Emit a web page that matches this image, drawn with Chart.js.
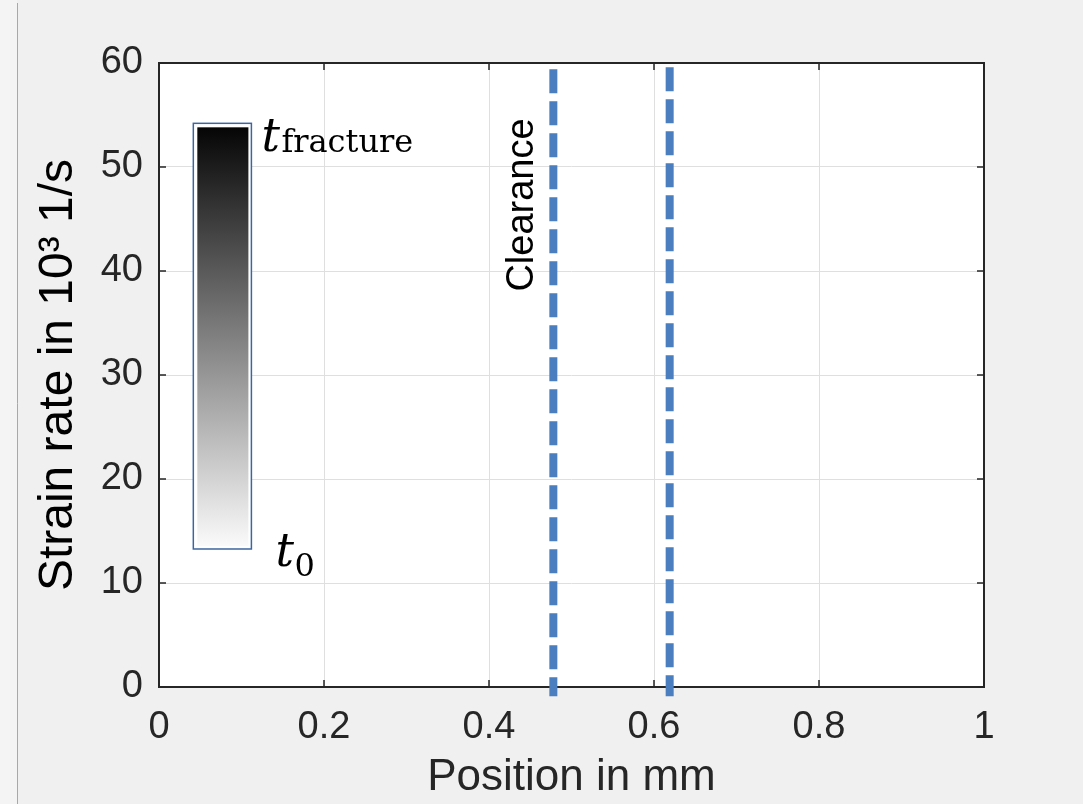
<!DOCTYPE html>
<html>
<head>
<meta charset="utf-8">
<script src="https://cdn.jsdelivr.net/npm/chart.js@4/dist/chart.umd.min.js"></script>
<style>
  html, body { margin: 0; padding: 0; background: #f0f0f0; }
  #c { display: block; }
</style>
</head>
<body>
<canvas id="c" width="1083" height="804"></canvas>
<script>
// ---- data ----
const xTickValues = [0, 0.2, 0.4, 0.6, 0.8, 1];
const xTickLabels = ['0', '0.2', '0.4', '0.6', '0.8', '1'];
const yTickValues = [0, 10, 20, 30, 40, 50, 60];
const yTickLabels = ['0', '10', '20', '30', '40', '50', '60'];
const clearanceX = [0.478, 0.619];
const clearanceTop = [59.4, 59.6];
const clearanceBottom = [-0.9, -0.9];
const colorbarX = [0.0416, 0.112];
const colorbarY = [13.27, 54.2];
const clearanceLabel = 'Clearance';
const xTitle = 'Position in mm';
const yTitle = 'Strain rate in 10\u00B3 1/s';

const datasets = clearanceX.map((x, i) => ({
  label: clearanceLabel + ' ' + (i + 1),
  data: [{ x: x, y: clearanceTop[i] }, { x: x, y: clearanceBottom[i] }],
  borderColor: '#4a7ebf',
  borderWidth: 8,
  borderDash: [24, 8],
  borderCapStyle: 'butt',
  pointRadius: 0,
  showLine: true,
  fill: false,
  clip: false
}));

const decor = {
  id: 'decor',
  beforeDraw(chart) {
    const ctx = chart.ctx, a = chart.chartArea;
    ctx.save();
    ctx.fillStyle = '#f0f0f0';
    ctx.fillRect(0, 0, chart.width, chart.height);
    ctx.fillStyle = '#f4f4f4';
    ctx.fillRect(0, 0, 17, chart.height);
    ctx.strokeStyle = '#a8a8a8';
    ctx.lineWidth = 1;
    ctx.beginPath(); ctx.moveTo(17.5, 3); ctx.lineTo(17.5, chart.height); ctx.stroke();
    ctx.fillStyle = '#ffffff';
    ctx.fillRect(a.left, a.top, a.right - a.left, a.bottom - a.top);
    ctx.restore();
  },
  beforeDatasetsDraw(chart) {
    const ctx = chart.ctx, a = chart.chartArea;
    const xs = chart.scales.x, ys = chart.scales.y;
    ctx.save();
    ctx.strokeStyle = '#262626';
    ctx.lineWidth = 2;
    ctx.strokeRect(a.left, a.top, a.right - a.left, a.bottom - a.top);
    ctx.lineWidth = 1.5;
    const tl = 7;
    ctx.beginPath();
    xTickValues.forEach(v => {
      const px = xs.getPixelForValue(v);
      ctx.moveTo(px, a.bottom); ctx.lineTo(px, a.bottom - tl);
      ctx.moveTo(px, a.top); ctx.lineTo(px, a.top + tl);
    });
    yTickValues.forEach(v => {
      const py = ys.getPixelForValue(v);
      ctx.moveTo(a.left, py); ctx.lineTo(a.left + tl, py);
      ctx.moveTo(a.right, py); ctx.lineTo(a.right - tl, py);
    });
    ctx.stroke();
    ctx.restore();
  },
  afterDatasetsDraw(chart) {
    const ctx = chart.ctx;
    const xs = chart.scales.x, ys = chart.scales.y;
    ctx.save();
    // colour bar
    const l = xs.getPixelForValue(colorbarX[0]);
    const r = xs.getPixelForValue(colorbarX[1]);
    const t = ys.getPixelForValue(colorbarY[1]);
    const b = ys.getPixelForValue(colorbarY[0]);
    ctx.fillStyle = '#ffffff';
    ctx.fillRect(l, t, r - l, b - t);
    const g = ctx.createLinearGradient(0, t + 3, 0, b - 3);
    g.addColorStop(0, '#050505');
    g.addColorStop(1, '#fafafa');
    ctx.fillStyle = g;
    ctx.fillRect(l + 4, t + 4, r - l - 7, b - t - 7);
    ctx.strokeStyle = '#3d66a0';
    ctx.lineWidth = 1.5;
    ctx.strokeRect(l, t, r - l, b - t);

    // t_fracture label
    ctx.fillStyle = '#000000';
    ctx.textAlign = 'left';
    ctx.textBaseline = 'alphabetic';
    ctx.font = 'italic 46px "DejaVu Serif"';
    ctx.fillText('t', r + 10, t + 28);
    ctx.font = '32px "DejaVu Serif"';
    ctx.fillText('fracture', r + 30, t + 29);
    // t_0 label
    ctx.font = 'italic 46px "DejaVu Serif"';
    ctx.fillText('t', r + 24, b + 17);
    ctx.font = '32px "DejaVu Serif"';
    ctx.fillText('0', r + 43, b + 27);

    // Clearance label
    const cx = xs.getPixelForValue(clearanceX[0]) - 20;
    ctx.translate(cx, 205);
    ctx.rotate(-Math.PI / 2);
    ctx.textAlign = 'center';
    ctx.font = '38px "Liberation Sans", Arial, sans-serif';
    ctx.fillText(clearanceLabel, 0, 0);
    ctx.restore();
  }
};

new Chart(document.getElementById('c'), {
  type: 'scatter',
  data: { datasets },
  options: {
    responsive: false,
    animation: false,
    devicePixelRatio: 1,
    layout: { padding: { left: 0, top: 63, right: 99, bottom: 0 } },
    plugins: { legend: { display: false }, tooltip: { enabled: false } },
    scales: {
      x: {
        type: 'linear', min: 0, max: 1,
        afterBuildTicks: s => { s.ticks = xTickValues.map(v => ({ value: v })); },
        afterFit: s => { s.height = 117; },
        grid: { color: '#dfdfdf', lineWidth: 1, drawTicks: false },
        border: { display: false },
        ticks: {
          color: '#262626', padding: 18, maxRotation: 0, autoSkip: false,
          font: { family: '"Liberation Sans", Arial, sans-serif', size: 38 },
          callback: (v, i) => xTickLabels[i]
        },
        title: {
          display: true, text: xTitle, color: '#262626',
          font: { family: '"Liberation Sans", Arial, sans-serif', size: 44, lineHeight: 1.2 },
          padding: { top: 0, bottom: 0 }
        }
      },
      y: {
        type: 'linear', min: 0, max: 60,
        afterBuildTicks: s => { s.ticks = yTickValues.map(v => ({ value: v })); },
        afterFit: s => { s.width = 159; },
        grid: { color: '#dfdfdf', lineWidth: 1, drawTicks: false },
        border: { display: false },
        ticks: {
          color: '#262626', padding: 16, autoSkip: false,
          font: { family: '"Liberation Sans", Arial, sans-serif', size: 38 },
          callback: (v, i) => yTickLabels[i]
        },
        title: {
          display: true, text: yTitle, color: '#000000',
          font: { family: '"Liberation Sans", Arial, sans-serif', size: 48, lineHeight: 1.2 },
          padding: { top: 30, bottom: 0 }
        }
      }
    }
  },
  plugins: [decor]
});
</script>
</body>
</html>
